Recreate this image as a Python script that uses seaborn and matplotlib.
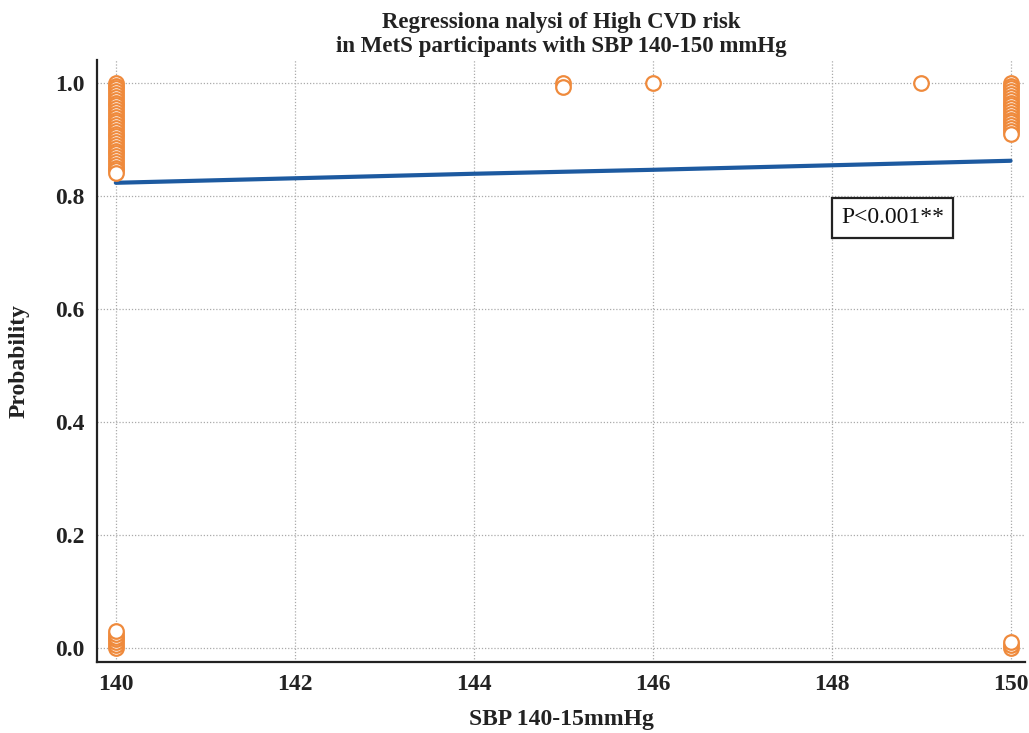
import matplotlib
matplotlib.use("Agg")
import matplotlib.pyplot as plt
import seaborn as sns
import pandas as pd
from matplotlib.ticker import MultipleLocator

# ---- data ----
x_140_high = [140] * 33
y_140_high = [1.000, 0.995, 0.990, 0.985, 0.980, 0.975, 0.970, 0.965, 0.960, 0.955,
              0.950, 0.945, 0.940, 0.935, 0.930, 0.925, 0.920, 0.915, 0.910, 0.905,
              0.900, 0.895, 0.890, 0.885, 0.880, 0.875, 0.870, 0.865, 0.860, 0.855,
              0.850, 0.845, 0.840]
x_140_low = [140] * 7
y_140_low = [0.000, 0.005, 0.010, 0.015, 0.020, 0.025, 0.030]
x_mid = [145, 145, 146, 149]
y_mid = [1.000, 0.993, 1.000, 1.000]
x_150_high = [150] * 19
y_150_high = [1.000, 0.995, 0.990, 0.985, 0.980, 0.975, 0.970, 0.965, 0.960, 0.955,
              0.950, 0.945, 0.940, 0.935, 0.930, 0.925, 0.920, 0.915, 0.910]
x_150_low = [150] * 3
y_150_low = [0.000, 0.005, 0.010]

fit_x = [140, 142, 144, 146, 148, 150]
fit_y = [0.823, 0.831, 0.839, 0.846, 0.854, 0.862]

x_ticks = [140, 142, 144, 146, 148, 150]
y_ticks = [0.0, 0.2, 0.4, 0.6, 0.8, 1.0]

title = "Regressiona nalysi of High CVD risk\nin MetS participants with SBP 140-150 mmHg"
x_label = "SBP 140-15mmHg"
y_label = "Probability"
annot = "P<0.001**"

pts = pd.DataFrame({
    "x": x_140_high + x_140_low + x_mid + x_150_high + x_150_low,
    "y": y_140_high + y_140_low + y_mid + y_150_high + y_150_low,
})
fit = pd.DataFrame({"x": fit_x, "y": fit_y})

sns.set_style("white")
plt.rcParams["font.family"] = ["Liberation Serif", "DejaVu Serif"]

fig = plt.figure(figsize=(10.29, 7.33), dpi=100)
ax = fig.add_axes([0.0943, 0.0969, 0.9017, 0.821])

ax.grid(True, linestyle=(0, (1, 1.5)), color="#aaaaaa", linewidth=0.9)
ax.set_axisbelow(True)

sns.lineplot(data=fit, x="x", y="y", ax=ax, color="#1d5aa0", linewidth=3, zorder=2)
sns.scatterplot(data=pts, x="x", y="y", ax=ax, s=110, facecolor="white",
                edgecolor="#ef8a3c", linewidth=1.6, zorder=3)

ax.set_xlim(139.79, 150.16)
ax.set_ylim(-0.025, 1.04)
ax.set_xticks(x_ticks)
ax.set_yticks(y_ticks)
ax.set_yticklabels([f"{v:.1f}" for v in y_ticks])
ax.xaxis.set_minor_locator(MultipleLocator(1))
ax.yaxis.set_minor_locator(MultipleLocator(0.1))
ax.tick_params(axis="both", which="major", direction="in", length=9, width=1.4,
               labelsize=17, colors="#222222", pad=9)
ax.tick_params(axis="both", which="minor", direction="in", length=9, width=1.2,
               colors="#222222")
for lab in ax.get_xticklabels() + ax.get_yticklabels():
    lab.set_fontweight("bold")

for s in ["top", "right"]:
    ax.spines[s].set_visible(False)
for s in ["left", "bottom"]:
    ax.spines[s].set_color("#222222")
    ax.spines[s].set_linewidth(1.6)

ax.set_xlabel(x_label, fontsize=17, fontweight="bold", color="#222222", labelpad=10)
ax.set_ylabel(y_label, fontsize=17, fontweight="bold", color="#222222", labelpad=18)
ax.set_title(title, fontsize=16.5, fontweight="bold", color="#222222", pad=6,
             linespacing=1.15)

ax.text(148.68, 0.761, annot, fontsize=17, ha="center", va="center", color="#111111",
        bbox=dict(boxstyle="square,pad=0.4", facecolor="white", edgecolor="#222222",
                  linewidth=1.6), zorder=5)

fig.savefig("out.png", dpi=100)
